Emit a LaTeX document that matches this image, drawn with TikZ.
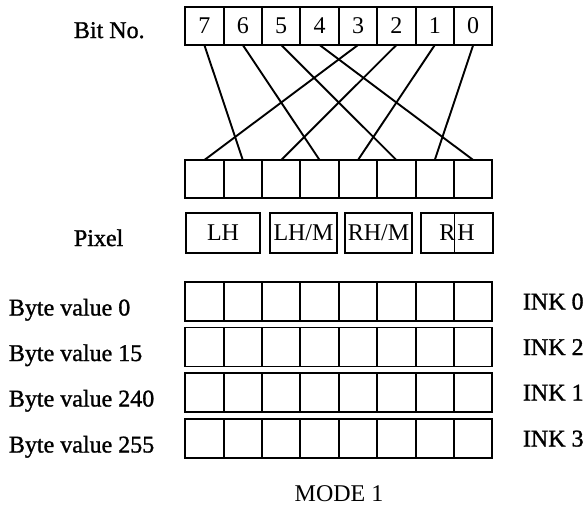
\documentclass[tikz,border=0pt]{standalone}
\usepackage{fontspec}
\setmainfont{Liberation Serif}
\newfontfamily\heavyfont[FakeBold=1.2]{Liberation Serif}
\usetikzlibrary{positioning}

\tikzset{
  cell/.style={draw, minimum width=38.4pt, minimum height=38pt, inner sep=0pt, outer sep=0pt},
  pixbox/.style={draw, minimum height=40pt, inner sep=0pt, outer sep=0pt},
  lbl/.style={anchor=base west, inner sep=0pt, font=\fontsize{24}{28}\heavyfont},
}

\begin{document}
\begin{tikzpicture}[x=1pt, y=-1pt, line width=1.9pt, font=\fontsize{24}{28}\selectfont]
\useasboundingbox (0,0) rectangle (588,507);
\node[lbl] (bitno) at (73,38) {Bit No.};
\foreach \b [evaluate=\b as \x using 185.2+38.4*(7.5-\b)] in {7,6,...,0} {
 \node[cell] (b\b) at (\x,26) {\b};
}
\foreach \p [evaluate=\p as \x using 185.2+38.4*(\p+0.5)] in {0,...,7} {
 \node[cell] (p\p) at (\x,179) {};
}
\foreach \b/\p in {3/0,7/1,2/2,6/3,1/4,5/5,0/6,4/7}
 \draw (b\b.south) -- (p\p.north);
\node[lbl] (pixel) at (73,246) {Pixel};
\node[pixbox, minimum width=74pt] (lh) at (223,233) {LH};
\node[pixbox, minimum width=67pt] (lhm) at (303.5,233) {LH/M};
\node[pixbox, minimum width=67pt] (rhm) at (378.5,233) {RH/M};
\node[pixbox, minimum width=72pt] (rh) at (457,233) {R\kern2pt H};
\draw[line width=1pt] (rh.north -| p6.east) -- (rh.south -| p6.east);
\foreach \v/\ink/\y [count=\r] in {0/0/301.5, 15/2/347, 240/1/392.5, 255/3/438.5} {
 \node[lbl] (val\r) at (8,\y+14) {Byte value \v};
 \foreach \c [evaluate=\c as \x using 185.2+38.4*(\c+0.5)] in {0,...,7}
  \node[cell, minimum height=39pt] (r\r-\c) at (\x,\y) {};
 \node[lbl] (ink\r) at (522,\y+8) {INK \ink};
}
\node[anchor=base, inner sep=0pt] (mode) at (339,501) {MODE 1};
\end{tikzpicture}
\end{document}
